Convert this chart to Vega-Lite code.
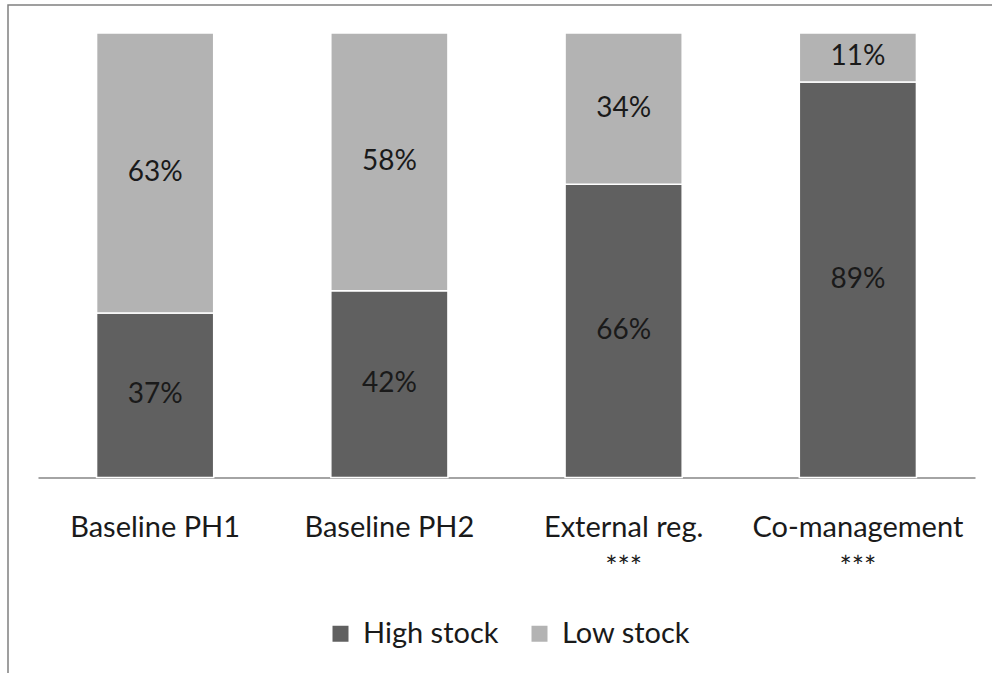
{
  "$schema": "https://vega.github.io/schema/vega-lite/v6.json",
  "width": 984,
  "height": 668,
  "autosize": {"type": "none"},
  "padding": {"left": 8, "top": 5, "right": 0, "bottom": 0},
  "background": "white",
  "config": {
    "view": {"stroke": "#808080", "strokeWidth": 1.5, "strokeDash": [984, 1652, 668]},
    "font": "Lato"
  },
  "data": {
    "values": [
      {"category": "Baseline PH1", "stock": "High stock", "share": 0.37},
      {"category": "Baseline PH1", "stock": "Low stock", "share": 0.63},
      {"category": "Baseline PH2", "stock": "High stock", "share": 0.42},
      {"category": "Baseline PH2", "stock": "Low stock", "share": 0.58},
      {"category": "External reg. ***", "stock": "High stock", "share": 0.66},
      {"category": "External reg. ***", "stock": "Low stock", "share": 0.34},
      {"category": "Co-management ***", "stock": "High stock", "share": 0.89},
      {"category": "Co-management ***", "stock": "Low stock", "share": 0.11}
    ]
  },
  "transform": [
    {"stack": "share", "groupby": ["category"], "sort": [{"field": "stock", "order": "ascending"}], "as": ["y0", "y1"]}
  ],
  "encoding": {
    "x": {
      "field": "category",
      "type": "nominal",
      "sort": ["Baseline PH1", "Baseline PH2", "External reg. ***", "Co-management ***"],
      "scale": {"range": [30, 967], "paddingInner": 0.5, "paddingOuter": 0.25},
      "axis": {
        "orient": "bottom",
        "offset": -195.5,
        "title": null,
        "ticks": false,
        "domainColor": "#868686",
        "domainWidth": 1.5,
        "labelAngle": 0,
        "labelFontSize": 29,
        "labelColor": "#1a1a1a",
        "labelPadding": 36,
        "labelLineHeight": 40,
        "labelLimit": 400,
        "labelExpr": "indexof(datum.label, ' ***') >= 0 ? [replace(datum.label, ' ***', ''), '***'] : datum.label"
      }
    },
    "y": {
      "field": "y0",
      "type": "quantitative",
      "scale": {"domain": [0, 1], "range": [472.5, 28], "nice": false},
      "axis": null
    },
    "y2": {"field": "y1"}
  },
  "layer": [
    {
      "mark": {"type": "bar", "stroke": "white", "strokeWidth": 1.5},
      "encoding": {
        "color": {
          "field": "stock",
          "type": "nominal",
          "scale": {"domain": ["High stock", "Low stock"], "range": ["#606060", "#b3b3b3"]},
          "legend": {
            "orient": "none",
            "legendX": 318,
            "legendY": 614,
            "direction": "horizontal",
            "title": null,
            "symbolType": "square",
            "symbolSize": 256,
            "symbolStrokeWidth": 0,
            "labelFontSize": 29,
            "labelColor": "#1a1a1a",
            "labelOffset": 8,
            "columnPadding": 26
          }
        }
      }
    },
    {
      "mark": {
        "type": "text",
        "fontSize": 28,
        "color": "#1a1a1a",
        "baseline": "middle",
        "dy": {"expr": "(scale('y', datum.y1) - scale('y', datum.y0)) / 2"}
      },
      "encoding": {
        "text": {"field": "share", "type": "quantitative", "format": ".0%"}
      }
    }
  ]
}
